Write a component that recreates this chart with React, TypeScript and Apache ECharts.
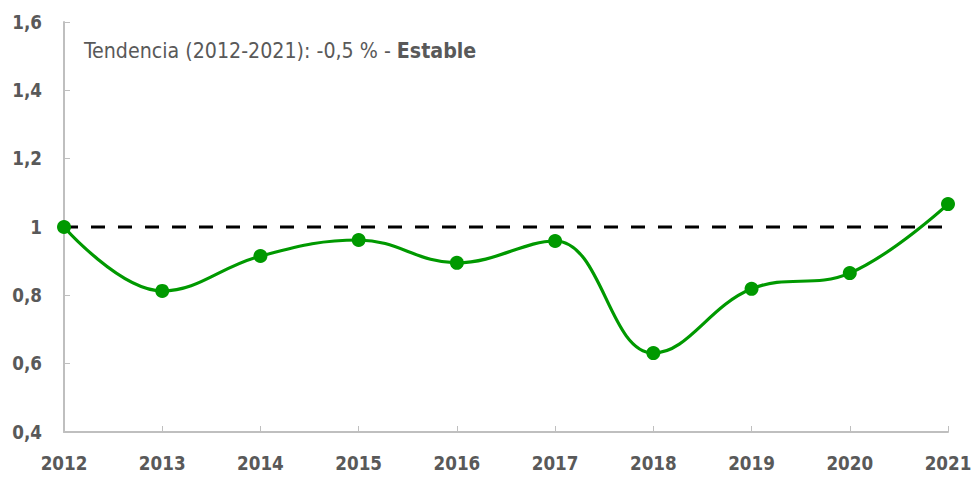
import React, { useEffect, useRef } from "react";
import * as echarts from "echarts";

const years = ["2012", "2013", "2014", "2015", "2016", "2017", "2018", "2019", "2020", "2021"];
const values = [1.0, 0.813, 0.915, 0.962, 0.895, 0.959, 0.631, 0.819, 0.865, 1.067];
const reference = 1;
const yTicks = { min: 0.4, max: 1.6, interval: 0.2 };
const trendLabel = "Tendencia (2012-2021): -0,5 % - ";
const trendWord = "Estable";

export default function App() {
  const ref = useRef<HTMLDivElement>(null);
  useEffect(() => {
    if (!ref.current) return;
    const chart = echarts.init(ref.current, null, { renderer: "svg" });
    const font = "'DejaVu Sans Condensed', 'DejaVu Sans', sans-serif";
    chart.setOption({
      animation: false,
      grid: { left: 64, right: 31, top: 22, bottom: 45, containLabel: false },
      xAxis: {
        type: "category",
        data: years,
        boundaryGap: false,
        axisLine: { lineStyle: { color: "#bfbfbf", width: 2 } },
        axisTick: { inside: true, length: 6, lineStyle: { color: "#bfbfbf", width: 1 } },
        axisLabel: { color: "#595959", fontFamily: font, fontWeight: "bold", fontSize: 18.67, margin: 22 },
      },
      yAxis: {
        type: "value",
        min: yTicks.min,
        max: yTicks.max,
        interval: yTicks.interval,
        axisLine: { show: true, lineStyle: { color: "#bfbfbf", width: 2 } },
        axisTick: { show: true, inside: true, length: 6, lineStyle: { color: "#bfbfbf", width: 1 } },
        splitLine: { show: false },
        axisLabel: {
          color: "#595959",
          fontFamily: font,
          fontWeight: "bold",
          fontSize: 18.67,
          margin: 22,
          formatter: (v: number) => String(Math.round(v * 10) / 10).replace(".", ","),
        },
      },
      series: [
        {
          type: "line",
          data: years.map(() => reference),
          symbol: "none",
          lineStyle: { color: "#000", width: 3, type: [14, 13] },
          silent: true,
          z: 1,
        },
        {
          type: "line",
          data: values,
          smooth: 0.4,
          symbol: "circle",
          symbolSize: 14,
          itemStyle: { color: "#009900" },
          lineStyle: { color: "#009900", width: 3.2 },
          z: 2,
        },
      ],
      graphic: [
        {
          type: "text",
          left: 84,
          top: 40,
          style: {
            text: `{n|${trendLabel}}{b|${trendWord}}`,
            fill: "#595959",
            rich: {
              n: { fontFamily: font, fontSize: 21.2, fill: "#595959" },
              b: { fontFamily: font, fontSize: 21.2, fill: "#595959", fontWeight: "bold" },
            },
          },
        },
      ],
    });
    return () => chart.dispose();
  }, []);
  return <div ref={ref} style={{ width: 979, height: 477, position: "absolute", left: 0, top: 0 }} />;
}
